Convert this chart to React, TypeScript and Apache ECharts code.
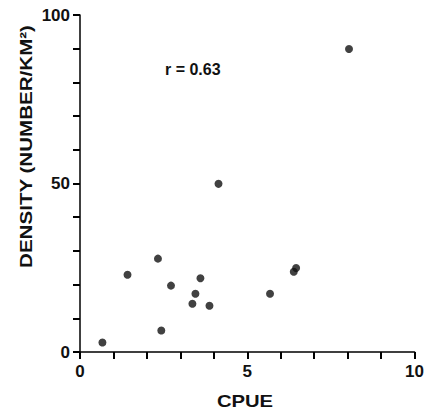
import React, { useEffect, useRef } from "react";
import * as echarts from "echarts";

const cpue = [0.67, 1.42, 2.33, 2.43, 2.72, 3.36, 3.45, 3.6, 3.87, 4.14, 5.68, 6.39, 6.46, 8.04];
const density = [2.8, 22.9, 27.7, 6.4, 19.7, 14.3, 17.3, 21.9, 13.7, 49.9, 17.3, 23.8, 24.9, 89.9];
const xLabels = [0, 5, 10];
const yLabels = [0, 50, 100];
const xTitle = "CPUE";
const yTitle = "DENSITY (NUMBER/KM²)";
const annotation = "r = 0.63";

const FONT = "'Liberation Sans', Arial, sans-serif";

export default function App() {
  const ref = useRef<HTMLDivElement>(null);
  useEffect(() => {
    if (!ref.current) return;
    const chart = echarts.init(ref.current, null, { renderer: "svg" });
    const data = cpue.map((x, i) => [x, density[i]]);
    const labelStyle = {
      color: "#111",
      fontSize: 17,
      fontWeight: "bold",
      fontFamily: FONT,
    };
    chart.setOption({
      animation: false,
      backgroundColor: "#fff",
      grid: { left: 80, top: 15, right: 9, bottom: 62, containLabel: false },
      xAxis: {
        type: "value",
        min: 0,
        max: 10,
        interval: 1,
        axisLine: { show: true, onZero: false, lineStyle: { color: "#000", width: 1.5 } },
        axisTick: { show: true, length: 7, lineStyle: { color: "#000", width: 2 } },
        splitLine: { show: false },
        axisLabel: {
          ...labelStyle,
          margin: 11,
          formatter: (v: number) => (xLabels.includes(v) ? String(v) : ""),
        },
      },
      yAxis: {
        type: "value",
        min: 0,
        max: 100,
        interval: 10,
        axisLine: { show: true, onZero: false, lineStyle: { color: "#000", width: 1.5 } },
        axisTick: { show: true, length: 7, lineStyle: { color: "#000", width: 2 } },
        splitLine: { show: false },
        axisLabel: {
          ...labelStyle,
          margin: 10,
          formatter: (v: number) => (yLabels.includes(v) ? String(v) : ""),
        },
      },
      series: [
        {
          type: "scatter",
          data,
          symbol: "circle",
          symbolSize: 8,
          itemStyle: { color: "#111" },
        },
      ],
      graphic: [
        {
          type: "text",
          left: 165,
          top: 61,
          style: { text: annotation, fill: "#111", font: `bold 16px ${FONT}` },
        },
        {
          type: "text",
          x: 26,
          y: 146.5,
          rotation: Math.PI / 2,
          scaleX: 1.21,
          style: {
            text: yTitle,
            fill: "#111",
            font: `bold 17px ${FONT}`,
            align: "center",
            verticalAlign: "middle",
          },
        },
        {
          type: "text",
          x: 245,
          y: 401,
          scaleX: 1.19,
          style: {
            text: xTitle,
            fill: "#111",
            font: `bold 17px ${FONT}`,
            align: "center",
            verticalAlign: "middle",
          },
        },
      ],
    });
    return () => chart.dispose();
  }, []);
  return <div ref={ref} style={{ width: 427, height: 414, position: "absolute", left: 0, top: 0 }} />;
}
